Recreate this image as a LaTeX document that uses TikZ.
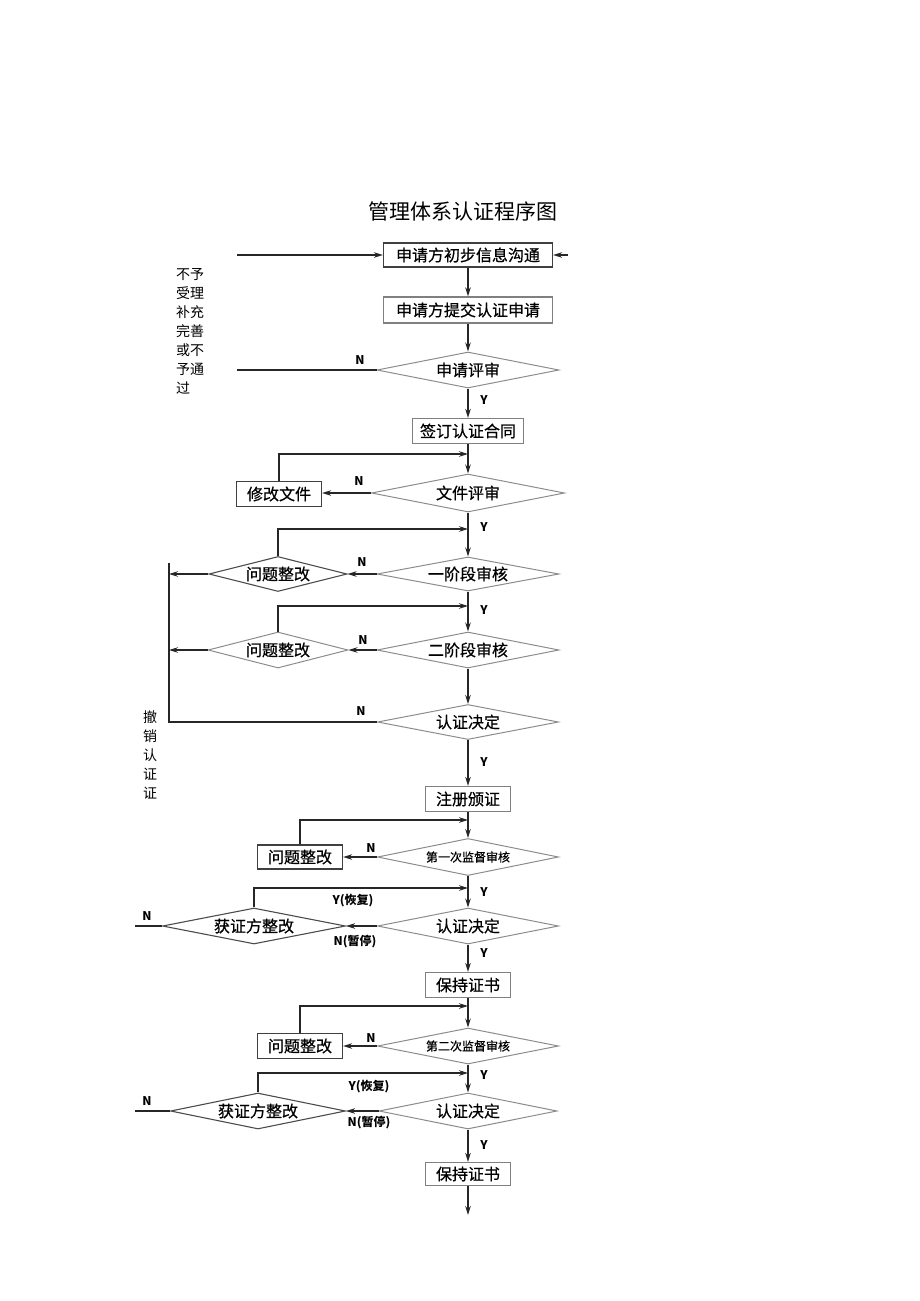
\documentclass[tikz,border=0pt]{standalone}
\usepackage{fontspec}
\setmainfont{Noto Sans CJK SC}
\newfontfamily\boxfont{Noto Sans CJK SC}[FakeBold=0.6]
\usetikzlibrary{shapes.geometric,arrows.meta}
\begin{document}
\begin{tikzpicture}[x=1pt,y=-1pt,
  font=\boxfont\fontsize{16}{16}\selectfont,
  every label/.style={inner sep=0pt},
  bx/.style={draw=black!75, line width=1.2pt, inner sep=0pt, fill=white},
  gbx/.style={draw=black!50, line width=1.2pt, inner sep=0pt, fill=white},
  dia/.style={diamond, draw=black!45, line width=1pt, inner sep=0pt},
  ddia/.style={diamond, draw=black!70, line width=1.1pt, inner sep=0pt},
  arr/.style={draw=black!85, line width=1.4pt, -{Stealth[length=9pt,width=5.5pt]}},
  ln/.style={draw=black!85, line width=1.4pt},
  yn/.style={font=\fontsize{12}{12}\selectfont\bfseries, inner sep=0pt},
  side/.style={font=\normalfont\fontsize{14}{19}\selectfont, inner sep=0pt, align=left, anchor=north west}
]
\useasboundingbox (0,0) rectangle (920,1301);

% title
\node[font=\normalfont\fontsize{21}{21}\selectfont] (title) at (463,211) {管理体系认证程序图};

% side texts
\node[side] (sideA) at (176,268) {不予\\受理\\补充\\完善\\或不\\予通\\过};
\node[side] (sideB) at (143,710) {撤\\销\\认\\证\\证};

% main column
\node[bx, minimum width=169, minimum height=24] (a1) at (468,255) {申请方初步信息沟通};
\node[gbx, minimum width=169, minimum height=26] (a2) at (468,310) {申请方提交认证申请};
\node[dia, minimum width=182, minimum height=36, label=center:申请评审] (d1) at (468,370) {};
\node[gbx, minimum width=111, minimum height=25] (a3) at (468,431) {签订认证合同};
\node[dia, minimum width=193, minimum height=38, label=center:文件评审] (d2) at (468,493) {};
\node[dia, minimum width=182, minimum height=34, label=center:一阶段审核] (d3) at (468,574) {};
\node[dia, minimum width=182, minimum height=36, label=center:二阶段审核] (d4) at (468,650) {};
\node[dia, minimum width=181, minimum height=35, label=center:认证决定] (d5) at (468,722) {};
\node[gbx, minimum width=85, minimum height=25] (a4) at (468,799) {注册颁证};
\node[dia, minimum width=181, minimum height=37, label={[font=\boxfont\fontsize{12}{12}\selectfont]center:第一次监督审核}] (d6) at (468,857) {};
\node[dia, minimum width=181, minimum height=36, label=center:认证决定] (d7) at (468,926) {};
\node[gbx, minimum width=85, minimum height=25] (a5) at (468,985) {保持证书};
\node[dia, minimum width=181, minimum height=36, label={[font=\boxfont\fontsize{12}{12}\selectfont]center:第二次监督审核}] (d8) at (468,1046) {};
\node[dia, minimum width=178, minimum height=36, label=center:认证决定] (d9) at (468,1111) {};
\node[gbx, minimum width=85, minimum height=23] (a6) at (468,1174) {保持证书};

% left column
\node[bx, minimum width=85, minimum height=25] (b1) at (279,494) {修改文件};
\node[ddia, minimum width=138, minimum height=35, label=center:问题整改] (q1) at (278,574) {};
\node[dia, minimum width=140, minimum height=36, label=center:问题整改] (q2) at (278,650) {};
\node[bx, minimum width=85, minimum height=24] (b2) at (300,857) {问题整改};
\node[ddia, minimum width=183, minimum height=36, label=center:获证方整改] (g1) at (254,926) {};
\node[bx, minimum width=85, minimum height=25] (b3) at (300,1046) {问题整改};
\node[ddia, minimum width=175, minimum height=36, label=center:获证方整改] (g2) at (258,1111) {};

% free ends
\coordinate (s1) at (237,255);
\coordinate (s1r) at (568,255);
\coordinate (n1) at (237,370);
\coordinate (j1) at (468,454);
\coordinate (j2) at (468,529);
\coordinate (j2b) at (468,606);
\coordinate (vt) at (169,563);
\coordinate (vb) at (169,722);
\coordinate (j3) at (468,820);
\coordinate (j4) at (468,888);
\coordinate (e1) at (135,926);
\coordinate (j5) at (468,1006);
\coordinate (j6) at (468,1073);
\coordinate (e2) at (135,1111);
\coordinate (e3) at (468,1215);

% connectors
\draw[arr] (s1) -- (a1.west);
\draw[arr] (s1r) -- (a1.east);
\draw[arr] (a1) -- (a2);
\draw[arr] (a2) -- (d1);
\draw[ln] (d1.west) -- (n1);
\node[yn] (nN1) at (360,360) {N};
\draw[arr] (d1) -- (a3);
\node[yn] (nY1) at (484,400) {Y};
\draw[arr] (a3) -- (d2);
\draw[arr] (d2.west) -- (d2.west -| b1.east);
\node[yn] (nN2) at (359,481) {N};
\draw[arr] (b1.north) |- (j1);
\draw[arr] (d2) -- (d3);
\node[yn] (nY2) at (484,527) {Y};
\draw[arr] (q1.north) |- (j2);
\draw[arr] (d3.west) -- (q1.east);
\node[yn] (nN3) at (362,562) {N};
\draw[arr] (q1.west) -- (q1.west -| vt);
\draw[arr] (d3) -- (d4);
\node[yn] (nY3) at (484,610) {Y};
\draw[arr] (q2.north) |- (j2b);
\draw[arr] (d4.west) -- (q2.east);
\node[yn] (nN4) at (363,640) {N};
\draw[arr] (q2.west) -- (q2.west -| vt);
\draw[arr] (d4) -- (d5);
\draw[ln] (d5.west) -- (vb) -- (vt);
\node[yn] (nN5) at (361,711) {N};
\draw[arr] (d5) -- (a4);
\node[yn] (nY4) at (484,762) {Y};
\draw[arr] (a4) -- (d6);
\draw[arr] (d6.west) -- (b2.east);
\node[yn] (nN6) at (371,848) {N};
\draw[arr] (b2.north) |- (j3);
\draw[arr] (d6) -- (d7);
\node[yn] (nY5) at (484,892) {Y};
\draw[arr] (d7.west) -- (g1.east);
\node[yn] (nP1) at (355,942) {N(暂停)};
\draw[arr] (g1.north) |- (j4);
\node[yn] (nR1) at (353,901) {Y(恢复)};
\draw[ln] (g1.west) -- (e1);
\node[yn] (nN7) at (147,916) {N};
\draw[arr] (d7) -- (a5);
\node[yn] (nY6) at (484,953) {Y};
\draw[arr] (a5) -- (d8);
\draw[arr] (d8.west) -- (b3.east);
\node[yn] (nN8) at (371,1038) {N};
\draw[arr] (b3.north) |- (j5);
\draw[arr] (d8) -- (d9);
\node[yn] (nY7) at (484,1075) {Y};
\draw[arr] (d9.west) -- (g2.east);
\node[yn] (nP2) at (369,1123) {N(暂停)};
\draw[arr] (g2.north) |- (j6);
\node[yn] (nR2) at (369,1087) {Y(恢复)};
\draw[ln] (g2.west) -- (e2);
\node[yn] (nN9) at (147,1101) {N};
\draw[arr] (d9) -- (a6);
\node[yn] (nY8) at (484,1145) {Y};
\draw[arr] (a6) -- (e3);
\end{tikzpicture}
\end{document}
